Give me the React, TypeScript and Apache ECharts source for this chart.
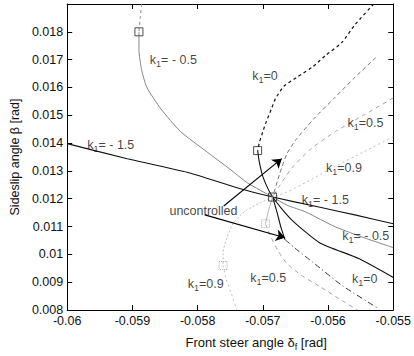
import React, { useEffect, useRef } from "react";
import * as echarts from "echarts";

// ---- data (x = front steer angle [rad], y = sideslip angle [rad]) ----
const kM15 = [[-0.06, 0.01398], [-0.05908, 0.01344], [-0.05816, 0.01295], [-0.05737, 0.01238], [-0.05685, 0.01206], [-0.05614, 0.0117], [-0.05559, 0.01142], [-0.055, 0.0111]];

const kM05Unstable = [[-0.05886, 0.019], [-0.05888, 0.0185], [-0.0589, 0.018]];
const kM05Stable = [[-0.0589, 0.018], [-0.0589, 0.01736], [-0.05886, 0.01665], [-0.05878, 0.01601], [-0.05856, 0.01522], [-0.05826, 0.01441], [-0.05786, 0.01369], [-0.05752, 0.01309], [-0.05723, 0.01256], [-0.05685, 0.01206], [-0.05663, 0.01177], [-0.05634, 0.01152], [-0.05589, 0.01099], [-0.05545, 0.0106], [-0.055, 0.01024]];

const k0Unstable = [[-0.0553, 0.019], [-0.05559, 0.01825], [-0.05579, 0.01761], [-0.05604, 0.01715], [-0.05623, 0.01675], [-0.05648, 0.01636], [-0.05668, 0.01604], [-0.05681, 0.01558], [-0.05687, 0.01522], [-0.05696, 0.01469], [-0.057, 0.01441], [-0.05705, 0.01405], [-0.05708, 0.01373]];
const k0Stable = [[-0.05708, 0.01373], [-0.05705, 0.01327], [-0.05699, 0.01273], [-0.05685, 0.01206], [-0.05657, 0.01127], [-0.05613, 0.01042], [-0.05553, 0.00985], [-0.055, 0.00917]];

const uncUpper = [[-0.05527, 0.01707], [-0.05559, 0.01636], [-0.05589, 0.01565], [-0.05622, 0.01487], [-0.05648, 0.01416], [-0.05663, 0.01362], [-0.05674, 0.01291], [-0.05685, 0.01206]];
const uncStable = [[-0.05685, 0.01206], [-0.05678, 0.01149], [-0.05672, 0.01095], [-0.05666, 0.01053]];
const uncLower = [[-0.05666, 0.01053], [-0.05648, 0.01017], [-0.05623, 0.00971], [-0.05579, 0.00889], [-0.05524, 0.00807]];

const k05Upper = [[-0.055, 0.01562], [-0.05545, 0.01501], [-0.05589, 0.01441], [-0.05626, 0.0138], [-0.05656, 0.01309], [-0.05674, 0.01248], [-0.05685, 0.01206]];
const k05Stable = [[-0.05685, 0.01206], [-0.05691, 0.01159], [-0.05696, 0.0111]];
const k05Lower = [[-0.05696, 0.0111], [-0.05687, 0.0106], [-0.05677, 0.01014], [-0.05663, 0.00967], [-0.05641, 0.00925], [-0.05611, 0.00882], [-0.05582, 0.00839], [-0.05555, 0.008]];

const k09Upper = [[-0.055, 0.01423], [-0.05545, 0.01369], [-0.05589, 0.01316], [-0.05634, 0.01259], [-0.05663, 0.01224], [-0.05685, 0.01206]];
const k09Stable = [[-0.05685, 0.01206], [-0.05705, 0.01184], [-0.05727, 0.01156], [-0.05745, 0.01113], [-0.05755, 0.0106], [-0.05761, 0.01006], [-0.05761, 0.0096]];
const k09Lower = [[-0.05761, 0.0096], [-0.05757, 0.00917], [-0.05749, 0.00864], [-0.0574, 0.008]];

const squaresSolid = [[-0.0589, 0.018], [-0.05708, 0.01373], [-0.05685, 0.01206]];
const squaresDotted = [[-0.05696, 0.0111], [-0.05761, 0.0096]];

const arrowStarts = [[-0.0576, 0.01174], [-0.05789, 0.01142]];
const arrowEnds = [[-0.05671, 0.01344], [-0.05666, 0.0106]];

// label: [main, subscript, rest, x, y]
const kLabels: [string, string, string, number, number][] = [
  ["k", "1", "= - 0.5", -0.05874, 0.017],
  ["k", "1", "= - 1.5", -0.0597, 0.01394],
  ["k", "1", "=0", -0.05717, 0.0164],
  ["k", "1", "=0.5", -0.05571, 0.01473],
  ["k", "1", "=0.9", -0.05604, 0.01312],
  ["k", "1", "= - 1.5", -0.05641, 0.01195],
  ["k", "1", "= - 0.5", -0.05579, 0.01067],
  ["k", "1", "=0", -0.05564, 0.0091],
  ["k", "1", "=0.5", -0.0572, 0.00914],
  ["k", "1", "=0.9", -0.05816, 0.00893],
];
const textLabels: [string, number, number][] = [["uncontrolled", -0.05844, 0.01156]];

const xMin = -0.06, xMax = -0.055, xStep = 0.001;
const yMin = 0.008, yMax = 0.019, yStep = 0.001, yLabelMax = 0.018;

const FONT = "Liberation Sans, Arial, sans-serif";

export default function App() {
  const ref = useRef<HTMLDivElement>(null);
  useEffect(() => {
    if (!ref.current) return;
    const chart = echarts.init(ref.current, undefined, { renderer: "svg" });
    const line = (data: number[][], color: string, width: number, type: any, smooth = 0.2) => ({
      type: "line",
      data,
      showSymbol: false,
      symbol: "none",
      silent: true,
      smooth,
      lineStyle: { color, width, type },
      z: 3,
    });
    const rich = {
      a: { fontSize: 12.5, fontFamily: FONT, color: "#111" },
      s: { fontSize: 9, fontFamily: FONT, color: "#111", padding: [8, 0, 0, 0] },
    };
    const fmtX = (v: number) => String(+v.toFixed(3));
    const fmtY = (v: number) => (v > yLabelMax + 1e-6 ? "" : String(+v.toFixed(3)));
    const common = {
      type: "value",
      splitLine: { show: false },
      axisLine: { show: true, onZero: false, lineStyle: { color: "#000", width: 1 } },
      axisTick: { show: true, inside: true, length: 5, lineStyle: { color: "#000" } },
    };
    chart.setOption({
      animation: false,
      backgroundColor: "#fff",
      grid: { left: 63, right: 14, top: 4, bottom: 43, containLabel: false },
      xAxis: [
        {
          ...common,
          min: xMin, max: xMax, interval: xStep,
          position: "bottom",
          axisLabel: { formatter: fmtX, color: "#111", fontSize: 12.5, fontFamily: FONT, margin: 4 },
          name: "Front steer angle δ{s|f} [rad]",
          nameLocation: "middle",
          nameGap: 24,
          nameTextStyle: { fontSize: 13, fontFamily: FONT, color: "#111", padding: [0, 0, 0, 52], rich: { ...rich, a: { ...rich.a, fontSize: 13 } } },
        },
        {
          ...common,
          min: xMin, max: xMax, interval: xStep,
          position: "top",
          axisLabel: { show: false },
        },
      ],
      yAxis: [
        {
          ...common,
          min: yMin, max: yMax, interval: yStep,
          position: "left",
          axisLabel: { formatter: fmtY, color: "#111", fontSize: 12.5, fontFamily: FONT, margin: 4 },
          name: "Sideslip angle β [rad]",
          nameLocation: "middle",
          nameGap: 46,
          nameTextStyle: { fontSize: 12.5, fontFamily: FONT, color: "#111" },
        },
        {
          ...common,
          min: yMin, max: yMax, interval: yStep,
          position: "right",
          axisLabel: { show: false },
        },
      ],
      series: [
        line(kM15, "#111", 1.1, "solid", 0.15),
        line(kM05Unstable, "#777", 0.9, [3, 3]),
        line(kM05Stable, "#777", 0.9, "solid"),
        line(k0Unstable, "#111", 1.2, [3, 3]),
        line(k0Stable, "#111", 1.1, "solid"),
        line(uncUpper, "#666", 0.9, [4, 3]),
        line(uncStable, "#111", 1.1, "solid"),
        line(uncLower, "#222", 0.9, [6, 3, 1, 3]),
        line(k05Upper, "#999", 0.9, [4, 4]),
        line(k05Stable, "#aaa", 0.9, "solid"),
        line(k05Lower, "#999", 0.9, [4, 4]),
        line(k09Upper, "#b5b5b5", 0.9, [2, 3]),
        line(k09Stable, "#b5b5b5", 0.9, [2, 2]),
        line(k09Lower, "#b5b5b5", 0.9, [2, 3]),
        {
          type: "scatter",
          data: squaresSolid,
          symbol: "rect",
          symbolSize: 8,
          itemStyle: { color: "rgba(0,0,0,0)", borderColor: "#222", borderWidth: 1 },
          z: 5,
        },
        {
          type: "scatter",
          data: squaresDotted,
          symbol: "rect",
          symbolSize: 8,
          itemStyle: { color: "rgba(0,0,0,0)", borderColor: "#999", borderWidth: 1, borderType: [1, 1] },
          z: 5,
        },
        {
          type: "lines",
          coordinateSystem: "cartesian2d",
          symbol: ["none", "arrow"],
          symbolSize: 9,
          lineStyle: { color: "#000", width: 1.1, curveness: 0, opacity: 1 },
          data: arrowStarts.map((s, i) => ({ coords: [s, arrowEnds[i]] })),
          z: 6,
        },
        {
          type: "scatter",
          data: kLabels.map((l) => ({ value: [l[3], l[4]], name: `{a|${l[0]}}{s|${l[1]}}{a|${l[2]}}` })),
          symbolSize: 1,
          itemStyle: { color: "rgba(0,0,0,0)" },
          label: {
            show: true,
            position: "right",
            distance: 0,
            formatter: (p: any) => p.name,
            rich,
          },
          z: 7,
        },
        {
          type: "scatter",
          data: textLabels.map((l) => ({ value: [l[1], l[2]], name: l[0] })),
          symbolSize: 1,
          itemStyle: { color: "rgba(0,0,0,0)" },
          label: {
            show: true,
            position: "right",
            distance: 0,
            formatter: (p: any) => p.name,
            fontSize: 12.5,
            fontFamily: FONT,
            color: "#111",
          },
          z: 7,
        },
      ],
    });
    return () => chart.dispose();
  }, []);
  return <div ref={ref} style={{ position: "fixed", left: 0, top: 0, width: 414, height: 356 }} />;
}
